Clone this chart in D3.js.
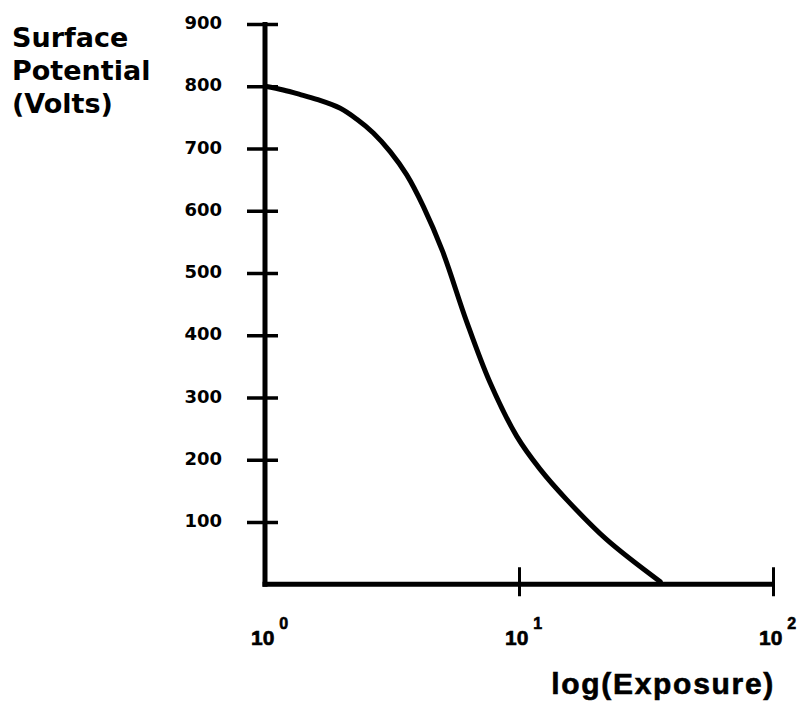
<!DOCTYPE html>
<html>
<head>
<meta charset="utf-8">
<script src="https://cdn.jsdelivr.net/npm/d3@7"></script>
<style>
  html, body { margin: 0; padding: 0; background: #fff; }
  svg { display: block; }
  text { font-weight: bold; fill: #000; }
</style>
</head>
<body>
<svg id="chart" width="808" height="705"></svg>
<script>
// ---- data ----
const exposure = [1, 1.18, 1.37, 1.60, 1.97, 2.30, 2.67, 3.11, 3.61, 4.20, 5.00, 6.22, 7.69, 9.79, 12.1, 15.4, 22.1, 36];
const potential = [800, 794, 787, 779, 765, 747, 725, 695, 658, 607, 535, 422, 324, 238, 185, 136, 72, 4];
const yTicks = [100, 200, 300, 400, 500, 600, 700, 800, 900];
const xTicks = [1, 10, 100];
const xTickExponents = ["0", "1", "2"];
const yTitleLines = ["Surface", "Potential", "(Volts)"];
const xTitle = "log(Exposure)";

// ---- layout ----
const svg = d3.select("#chart");
const x = d3.scaleLog().domain([1, 100]).range([265, 773]);
const y = d3.scaleLinear().domain([0, 900]).range([584.25, 24]);
const sansA = '"Liberation Sans", Arial, Helvetica, sans-serif';
const sansD = '"DejaVu Sans", Verdana, sans-serif';

// Y axis
const yAxis = d3.axisLeft(y).tickValues(yTicks).tickSizeOuter(0).tickSizeInner(18).tickPadding(0).tickFormat(d3.format("d"));
const gy = svg.append("g").attr("transform", `translate(${x(1)},0)`).call(yAxis);
gy.select(".domain").remove();
gy.selectAll(".tick line").attr("x1", 13).attr("x2", -18).attr("stroke", "#000").attr("stroke-width", 3.5);
gy.selectAll(".tick text")
  .attr("x", -43).attr("dy", null).attr("y", 4.5)
  .attr("text-anchor", "end")
  .style("font-size", "18px")
  .style("font-family", sansD).style("font-weight", "bold")
  .attr("fill", "#000");

svg.append("line")
  .attr("x1", x(1)).attr("x2", x(1))
  .attr("y1", y(900) - 2).attr("y2", y(0) + 2.5)
  .attr("stroke", "#000").attr("stroke-width", 5);

// X axis
const xAxis = d3.axisBottom(x).tickValues(xTicks.slice(1)).tickSizeOuter(0).tickSizeInner(15).tickFormat("");
const gx = svg.append("g").attr("transform", `translate(0,${y(0)})`).call(xAxis);
gx.select(".domain").remove();
gx.selectAll(".tick line").attr("y1", -17).attr("y2", 12).attr("stroke", "#000").attr("stroke-width", 3);

svg.append("line")
  .attr("x1", x(1) - 2.5).attr("x2", x(100))
  .attr("y1", y(0)).attr("y2", y(0))
  .attr("stroke", "#000").attr("stroke-width", 5);

// X tick labels with superscripts
xTicks.forEach((v, i) => {
  const t = svg.append("text")
    .attr("x", x(v) - 14).attr("y", 645)
    .style("font-family", sansA)
    .style("font-size", "21px")
    .attr("stroke", "#000").attr("stroke-width", 0.6);
  t.append("tspan").text("10");
  t.append("tspan").attr("dx", 5).attr("dy", -16).style("font-size", "16px").text(xTickExponents[i]);
});

// Curve
const line = d3.line()
  .x((d, i) => x(exposure[i]))
  .y((d, i) => y(potential[i]))
  .curve(d3.curveCatmullRom.alpha(0.5));
svg.append("path")
  .datum(potential)
  .attr("d", line)
  .attr("fill", "none")
  .attr("stroke", "#000")
  .attr("stroke-width", 5)
  .attr("stroke-linecap", "round");

// Titles
svg.append("g").selectAll("text").data(yTitleLines).join("text")
  .attr("x", 12).attr("y", (d, i) => 47 + i * 33)
  .style("font-family", sansD)
  .style("font-size", "27px")
  .text(d => d);

svg.append("text")
  .attr("x", 775).attr("y", 694)
  .attr("text-anchor", "end")
  .style("font-family", sansA)
  .style("font-size", "30px").style("letter-spacing", "1.7px")
  .attr("stroke", "#000").attr("stroke-width", 0.6)
  .text(xTitle);
</script>
</body>
</html>
